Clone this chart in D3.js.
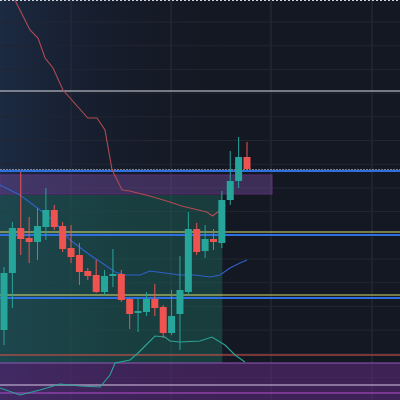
<!DOCTYPE html>
<html>
<head>
<meta charset="utf-8">
<script src="https://cdn.jsdelivr.net/npm/d3@7"></script>
<style>
body { margin: 0; background: #131722; }
svg { display: block; }
</style>
</head>
<body>
<script>
"use strict";

// candles: open, high, low, close (price units)
var opens  = [70, 127, 172, 162, 158, 173, 190, 174, 152, 145, 129, 125, 108, 125, 126, 101, 87, 88, 101, 93, 67, 86, 108, 171, 149, 161, 157, 200, 219, 243];
var highs  = [133, 178, 228, 183, 192, 212, 195, 178, 175, 157, 132, 140, 130, 151, 130, 102, 102, 108, 116, 95, 110, 144, 188, 177, 175, 171, 209, 249, 263, 258];
var lows   = [55, 92, 145, 137, 140, 160, 170, 148, 137, 115, 120, 107, 105, 113, 98, 71, 68, 84, 84, 62, 65, 50, 105, 145, 142, 150, 152, 195, 212, 230];
var closes = [127, 172, 161, 158, 174, 190, 173, 151, 143, 128, 124, 108, 124, 126, 100, 86, 89, 101, 92, 67, 84, 110, 171, 148, 161, 158, 200, 219, 243, 231];

// indicator lines: [bar index, price]
var upperBand = [[1.3, 400], [3.1, 370], [4.06, 362], [4.9, 342], [5.85, 332], [7.04, 310], [10.0, 282], [11.1, 282], [12.05, 270], [12.9, 230], [14.1, 210], [15.0, 209], [17.4, 204], [19.8, 198], [21.2, 194], [24.2, 188], [24.9, 184], [25.8, 190], [26.4, 195]];
var midBand = [[-0.48, 215], [1.91, 205], [4.3, 190], [6.09, 178], [7.88, 160], [10.26, 145], [12.05, 135], [13.25, 128], [14.44, 125], [16.23, 125], [17.42, 129], [19.21, 127], [21.0, 125], [22.8, 125], [24.58, 123], [25.78, 125], [26.97, 132], [28.16, 137], [29.0, 140]];
var lowerBand = [[-0.48, 12], [1.91, 5], [4.3, 10], [6.68, 16], [9.07, 14], [11.46, 13], [12.65, 25], [13.25, 37], [15.04, 40], [16.0, 47], [16.83, 54], [18.02, 64], [19.21, 63], [19.81, 59], [21.0, 58], [23.39, 59], [24.82, 63], [26.37, 55], [27.57, 45], [28.76, 38]];

// horizontal levels
var whiteLevels = [309];
var yellowLevels = [168, 105];
var blueLevels = [165, 102, 229];
var redLevels = [45];

var W = 400, H = 400;
var x = d3.scaleLinear().domain([0, 29]).range([4, 247]);
var y = d3.scaleLinear().domain([0, 400]).range([400, 0]);

var svg = d3.select('body').append('svg').attr('width', W).attr('height', H);
var defs = svg.append('defs');
var grad = defs.append('linearGradient').attr('id', 'lg').attr('x1', 0).attr('x2', 1).attr('y1', 0).attr('y2', 0);
grad.append('stop').attr('offset', 0).attr('stop-color', '#1c2a42').attr('stop-opacity', 1);
grad.append('stop').attr('offset', 1).attr('stop-color', '#131722').attr('stop-opacity', 0);

svg.append('rect').attr('width', W).attr('height', H).attr('fill', '#141823');
svg.append('rect').attr('width', 240).attr('height', H).attr('fill', 'url(#lg)');

// grid
svg.selectAll('.vg').data([71, 171, 271, 372]).enter().append('line')
	.attr('x1', function(d) { return d; }).attr('x2', function(d) { return d; })
	.attr('y1', 0).attr('y2', H).attr('stroke', '#2a2e39').attr('stroke-width', 1);
svg.selectAll('.hg').data(d3.range(0, 400, 23.7)).enter().append('line')
	.attr('x1', 0).attr('x2', W)
	.attr('y1', function(d) { return d + 22; }).attr('y2', function(d) { return d + 22; })
	.attr('stroke', '#222633').attr('stroke-width', 1);

// shaded zones
svg.append('rect').attr('x', 0).attr('y', y(205)).attr('width', x(26.05)).attr('height', y(37) - y(205))
	.attr('fill', '#1f6b5e').attr('opacity', 0.45);
svg.append('rect').attr('x', 0).attr('y', y(37)).attr('width', W).attr('height', 40)
	.attr('fill', '#5a2a78').attr('opacity', 0.6);
svg.append('rect').attr('x', 0).attr('y', y(225)).attr('width', 272).attr('height', 19)
	.attr('fill', '#7b4fa8').attr('opacity', 0.4).attr('stroke', '#b04ad0').attr('stroke-width', 1.2);

// level lines
svg.append('line').attr('x1', 0).attr('x2', W).attr('y1', 0.5).attr('y2', 0.5)
	.attr('stroke', '#cfd3dc').attr('stroke-dasharray', '2,2');
svg.append('line').attr('x1', 0).attr('x2', W).attr('y1', y(230)).attr('y2', y(230))
	.attr('stroke', '#e0e3eb').attr('stroke-dasharray', '2,1');
svg.selectAll('.wl').data(whiteLevels).enter().append('line')
	.attr('x1', 0).attr('x2', W).attr('y1', function(d) { return y(d); }).attr('y2', function(d) { return y(d); })
	.attr('stroke', '#d8dae0').attr('stroke-width', 1.2);
svg.selectAll('.bl').data(blueLevels).enter().append('line')
	.attr('x1', 0).attr('x2', W).attr('y1', function(d) { return y(d); }).attr('y2', function(d) { return y(d); })
	.attr('stroke', '#2f6fe0').attr('stroke-width', 2);
svg.selectAll('.yl').data(yellowLevels).enter().append('line')
	.attr('x1', 0).attr('x2', W).attr('y1', function(d) { return y(d); }).attr('y2', function(d) { return y(d); })
	.attr('stroke', '#d8e070').attr('stroke-width', 1);
svg.selectAll('.rl').data(redLevels).enter().append('line')
	.attr('x1', 0).attr('x2', W).attr('y1', function(d) { return y(d); }).attr('y2', function(d) { return y(d); })
	.attr('stroke', '#e0524a').attr('stroke-width', 1.2);
svg.append('line').attr('x1', 0).attr('x2', W).attr('y1', y(37)).attr('y2', y(37))
	.attr('stroke', '#8e5bb8').attr('stroke-width', 1.2);
svg.append('line').attr('x1', 0).attr('x2', W).attr('y1', y(15)).attr('y2', y(15))
	.attr('stroke', '#d7c8e8').attr('stroke-width', 1.2);
svg.append('line').attr('x1', 0).attr('x2', W).attr('y1', y(7)).attr('y2', y(7))
	.attr('stroke', '#b14fd0').attr('stroke-width', 1.2);

// indicator lines
var line = d3.line().x(function(d) { return x(d[0]); }).y(function(d) { return y(d[1]); });
svg.append('path').datum(upperBand).attr('d', line).attr('fill', 'none').attr('stroke', '#b24a52').attr('stroke-width', 1.1);
svg.append('path').datum(midBand).attr('d', line).attr('fill', 'none').attr('stroke', '#2f62c8').attr('stroke-width', 1.1);
svg.append('path').datum(lowerBand).attr('d', line).attr('fill', 'none').attr('stroke', '#2aa595').attr('stroke-width', 1.1);

// candles
var idx = d3.range(opens.length);
var color = function(i) { return closes[i] >= opens[i] ? '#26a69a' : '#ef5350'; };
svg.selectAll('.wick').data(idx).enter().append('line')
	.attr('x1', function(i) { return x(i); }).attr('x2', function(i) { return x(i); })
	.attr('y1', function(i) { return y(highs[i]); }).attr('y2', function(i) { return y(lows[i]); })
	.attr('stroke', color).attr('stroke-width', 1);
svg.selectAll('.body').data(idx).enter().append('rect')
	.attr('x', function(i) { return x(i) - 3.5; }).attr('width', 7)
	.attr('y', function(i) { return y(Math.max(opens[i], closes[i])); })
	.attr('height', function(i) { return Math.max(2, Math.abs(y(opens[i]) - y(closes[i]))); })
	.attr('fill', color);
</script>
</body>
</html>
